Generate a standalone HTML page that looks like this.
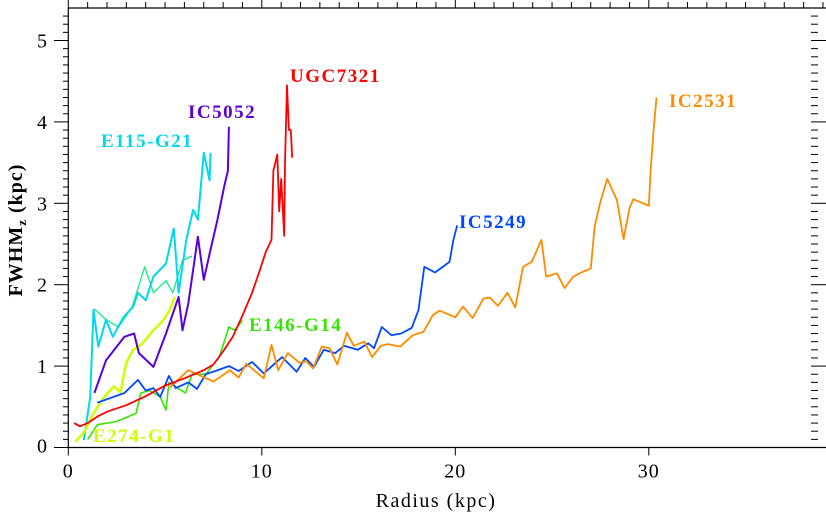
<!DOCTYPE html>
<html><head><meta charset="utf-8"><style>
html,body{margin:0;padding:0;background:#fff;}
svg{display:block;font-family:"Liberation Serif",serif;}
</style></head><body>
<svg id="chart" width="826" height="514" viewBox="0 0 826 514" xmlns="http://www.w3.org/2000/svg">
<g id="axes"></g>
<g id="series"></g>
<g id="labels"></g>
<text x="436" y="507" font-size="20" letter-spacing="1.5" text-anchor="middle">Radius (kpc)</text>
<text transform="translate(22,230) rotate(-90)" font-size="20" font-weight="bold" letter-spacing="1" text-anchor="middle">FWHM<tspan font-size="13" dy="4">z</tspan><tspan dy="-4"> (kpc)</tspan></text>
</svg>
<script>
const xTicks=[0,10,20,30];
const yTicks=[0,1,2,3,4,5];
const seriesNames=["E146-G14","E274-G1","teal-extra","E115-G21","IC5052","UGC7321","IC5249","IC2531"];
const E146x=[1.0,1.5,2.5,3.5,3.75,4.2,4.75,5.05,5.2,6.05,6.4,7.1,7.8,8.3,8.6,9.0];
const E146y=[0.1,0.28,0.32,0.42,0.67,0.7,0.62,0.46,0.8,0.67,0.9,0.9,1.11,1.48,1.44,1.56];
const E274x=[0.35,0.8,1.3,1.85,2.35,2.7,3.0,3.35,3.8,4.4,4.9,5.25,5.5];
const E274y=[0.07,0.18,0.42,0.62,0.75,0.68,1.04,1.2,1.27,1.44,1.56,1.69,1.85];
const TEALx=[1.35,1.95,2.6,3.3,3.95,4.4,5.05,5.4,5.9,6.4];
const TEALy=[1.7,1.57,1.48,1.73,2.22,1.9,2.05,1.9,2.3,2.35];
const E115x=[0.8,1.13,1.3,1.55,1.95,2.3,2.85,3.35,3.6,4.0,4.4,5.05,5.45,5.7,6.1,6.45,6.7,7.0,7.3,7.35];
const E115y=[0.09,0.62,1.69,1.24,1.57,1.36,1.6,1.73,1.9,1.81,2.1,2.26,2.69,1.9,2.55,2.92,2.8,3.62,3.28,3.62];
const IC5052x=[1.35,1.95,2.5,2.9,3.4,3.65,4.4,5.05,5.7,5.9,6.2,6.7,7.0,7.3,7.7,8.05,8.25,8.3];
const IC5052y=[0.67,1.07,1.24,1.36,1.4,1.16,0.99,1.4,1.85,1.44,1.77,2.59,2.06,2.38,2.79,3.2,3.4,3.94];
const UGCx=[0.3,0.6,1,1.5,2,3,4,5,6,7,7.5,8,8.5,9,9.5,9.9,10.2,10.5,10.6,10.8,10.9,11.0,11.16,11.2,11.3,11.4,11.5,11.57];
const UGCy=[0.3,0.26,0.3,0.38,0.44,0.52,0.63,0.76,0.85,0.95,1.02,1.18,1.36,1.62,1.9,2.18,2.4,2.55,3.4,3.6,2.9,3.3,2.6,3.5,4.45,3.9,3.9,3.56];
const IC5249x=[1.5,2.9,3.6,4.0,4.4,4.75,5.2,5.55,6.2,6.65,7.1,7.6,8.3,8.8,9.5,10.1,11.05,11.8,12.25,12.7,13.2,13.8,14.25,14.95,15.5,15.8,16.2,16.7,17.2,17.75,18.1,18.4,18.95,19.7,19.9,20.1];
const IC5249y=[0.55,0.67,0.83,0.7,0.73,0.62,0.88,0.73,0.8,0.72,0.9,0.94,1.0,0.94,1.05,0.91,1.11,0.93,1.1,0.99,1.2,1.16,1.25,1.2,1.28,1.22,1.48,1.38,1.4,1.47,1.69,2.22,2.15,2.28,2.55,2.73];
const IC2531x=[5.25,6.2,7.5,8.35,8.8,9.2,10.1,10.5,10.85,11.35,11.95,12.3,12.65,13.1,13.5,13.9,14.4,14.75,15.3,15.7,16.15,16.5,17.15,17.8,18.35,18.85,19.2,20.0,20.4,20.9,21.45,21.8,22.2,22.7,23.1,23.5,23.95,24.45,24.7,25.25,25.65,26.1,26.5,27.0,27.2,27.5,27.85,28.35,28.7,29.0,29.2,29.7,30.0,30.1,30.25,30.4];
const IC2531y=[0.74,0.95,0.81,0.95,0.86,1.03,0.85,1.26,0.95,1.16,1.04,1.06,0.97,1.24,1.22,1.02,1.41,1.25,1.3,1.11,1.25,1.27,1.24,1.38,1.42,1.63,1.68,1.6,1.73,1.59,1.83,1.84,1.74,1.9,1.72,2.22,2.28,2.55,2.1,2.14,1.96,2.1,2.15,2.2,2.71,3.02,3.3,3.04,2.56,2.94,3.05,3.0,2.97,3.41,3.9,4.3];

const X0=68.3,XS=19.35,Y0=447.5,YS=81.4;
function sx(v){return X0+v*XS;}
function sy(v){return Y0-v*YS;}
const NS="http://www.w3.org/2000/svg";
function mk(tag,attrs,parent){const e=document.createElementNS(NS,tag);for(const k in attrs)e.setAttribute(k,attrs[k]);parent.appendChild(e);return e;}
const axes=document.getElementById('axes');
let l;
l=mk('line',{x1:X0,y1:8,x2:826,y2:8,stroke:'#000','stroke-width':1.2},axes);


l=mk('line',{x1:X0,y1:Y0,x2:826,y2:Y0,stroke:'#000','stroke-width':1.2},axes);


l=mk('line',{x1:X0,y1:8,x2:X0,y2:Y0,stroke:'#000','stroke-width':1.2},axes);


for(let k=0;k<=39;k++){
  const x=sx(k);const major=k%10===0;
  l=mk('line',{x1:x,y1:Y0,x2:x,y2:Y0+(major?8:0),stroke:'#000','stroke-width':1},axes);
  
  
  l=mk('line',{x1:x,y1:8,x2:x,y2:major?0:2,stroke:'#000','stroke-width':1},axes);
  
  
}
xTicks.forEach(v=>{
  const t=mk('text',{x:sx(v),y:Y0+30,'font-size':20,'letter-spacing':1,'text-anchor':'middle'},axes);
  t.textContent=v;
  
  
});
for(let k=0;k<=53;k++){
  const y=sy(k/10);const major=k%10===0;
  l=mk('line',{x1:major?54:63,y1:y,x2:X0,y2:y,stroke:'#000','stroke-width':1},axes);
  
  
  l=mk('line',{x1:811,y1:y,x2:major?826:818,y2:y,stroke:'#000','stroke-width':1},axes);
  
  
}
yTicks.forEach(v=>{
  const t=mk('text',{x:42,y:sy(v)+7-(v===0?2:0),'font-size':20,'text-anchor':'middle'},axes);
  t.textContent=v;
  
  
});
const sg=document.getElementById('series');
const defs=[
 [E146x,E146y,'#33e600',1.6,'series-e146-g14'],
 [TEALx,TEALy,'#22ee88',1.4,'series-teal'],
 [E115x,E115y,'#00d8f0',2,'series-e115-g21'],
 [E274x,E274y,'#ccff00',2.5,'series-e274-g1'],
 [IC5052x,IC5052y,'#5a00d8',2,'series-ic5052'],
 [IC5249x,IC5249y,'#0048ff',1.8,'series-ic5249'],
 [IC2531x,IC2531y,'#ff8c00',1.8,'series-ic2531'],
 [UGCx,UGCy,'#ff0000',1.8,'series-ugc7321']
];
defs.forEach(d=>{
  const pts=d[0].map((x,i)=>sx(x).toFixed(1)+','+sy(d[1][i]).toFixed(1)).join(' ');
  const p=mk('polyline',{points:pts,fill:'none',stroke:d[2],'stroke-width':d[3],'stroke-linejoin':'round'},sg);
  
  
});
const lg=document.getElementById('labels');
const labs=[
 ['UGC7321',290,82,'#ff0000'],['IC5052',188,118,'#5a00d8'],['E115-G21',101,147,'#00d8f0'],
 ['IC5249',459,228,'#0048ff'],['IC2531',669,107,'#ff8c00'],['E146-G14',249,331,'#33e600'],['E274-G1',93,442,'#ccff00']
];
labs.forEach(a=>{
  const t=mk('text',{x:a[1],y:a[2],fill:a[3],'font-size':19,'font-weight':'bold','letter-spacing':1.5},lg);
  t.textContent=a[0];
  
  
});
</script>
</body></html>
